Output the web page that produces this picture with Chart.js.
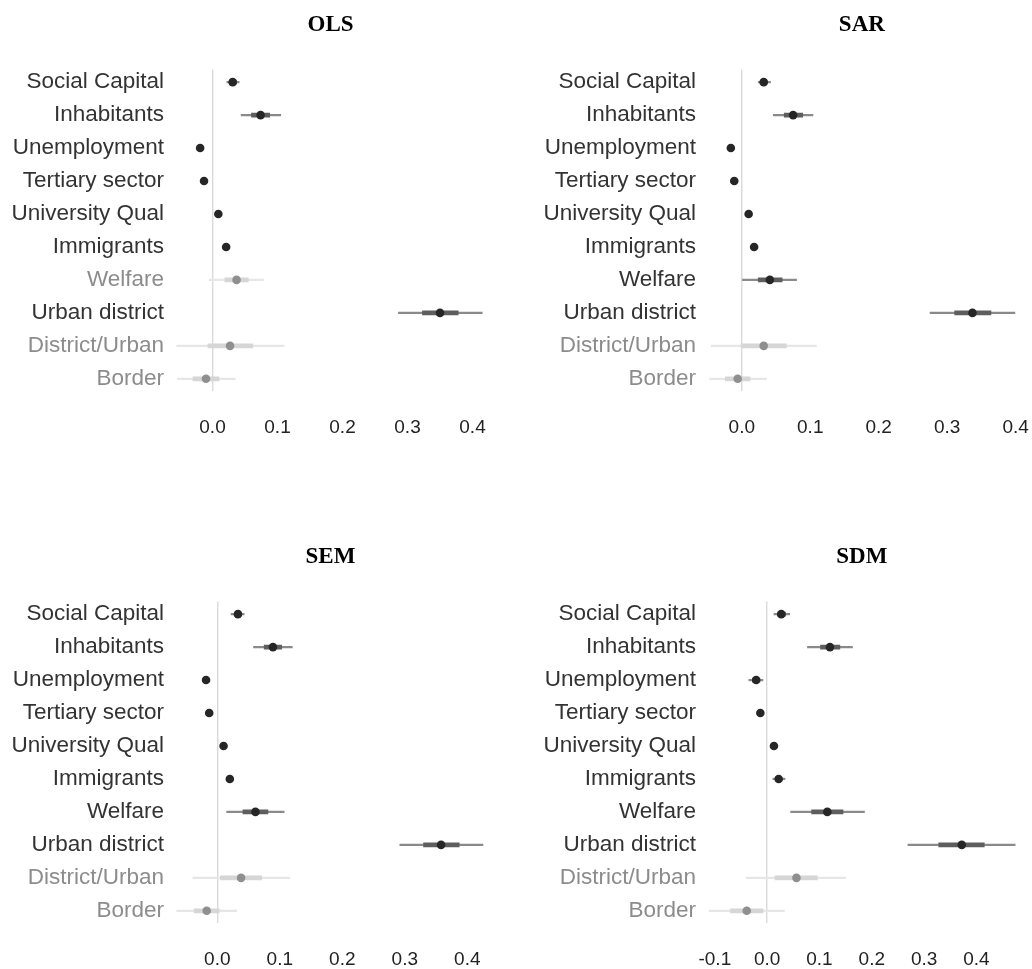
<!DOCTYPE html>
<html>
<head>
<meta charset="utf-8">
<script src="https://cdn.jsdelivr.net/npm/chart.js@4.4.1/dist/chart.umd.min.js"></script>
<style>
  body { margin: 0; background: #fff; }
  #wrap { position: relative; width: 1032px; height: 969px; }
  canvas { position: absolute; }
</style>
</head>
<body>
<div id="wrap">
  <canvas id="c0" width="516" height="437" style="left:0;top:0"></canvas>
  <canvas id="c1" width="516" height="437" style="left:516px;top:0"></canvas>
  <canvas id="c2" width="516" height="437" style="left:0;top:532px"></canvas>
  <canvas id="c3" width="516" height="437" style="left:516px;top:532px"></canvas>
</div>
<script>
// variables, top to bottom
var categories = ['Social Capital', 'Inhabitants', 'Unemployment', 'Tertiary sector', 'University Qual',
  'Immigrants', 'Welfare', 'Urban district', 'District/Urban', 'Border'];
var models = ['OLS', 'SAR', 'SEM', 'SDM'];

// point estimates + outer (wide) and inner (thick) intervals
var olsEst     = [0.031, 0.074, -0.019, -0.013, 0.009, 0.021, 0.037, 0.350, 0.027, -0.010];
var olsOuterLo = [0.022, 0.044, -0.024, -0.018, 0.005, 0.016, -0.005, 0.286, -0.055, -0.054];
var olsOuterHi = [0.041, 0.105, -0.014, -0.008, 0.013, 0.026, 0.079, 0.415, 0.110, 0.035];
var olsInnerLo = [0.026, 0.060, -0.022, -0.016, 0.007, 0.018, 0.019, 0.323, -0.007, -0.030];
var olsInnerHi = [0.037, 0.088, -0.016, -0.010, 0.011, 0.024, 0.055, 0.378, 0.062, 0.010];

var sarEst     = [0.032, 0.075, -0.016, -0.011, 0.010, 0.018, 0.041, 0.337, 0.032, -0.006];
var sarOuterLo = [0.024, 0.046, -0.021, -0.016, 0.006, 0.013, 0.001, 0.275, -0.045, -0.047];
var sarOuterHi = [0.042, 0.104, -0.011, -0.006, 0.014, 0.023, 0.080, 0.399, 0.109, 0.036];
var sarInnerLo = [0.028, 0.062, -0.019, -0.014, 0.008, 0.015, 0.024, 0.311, -0.001, -0.024];
var sarInnerHi = [0.037, 0.089, -0.013, -0.008, 0.012, 0.021, 0.059, 0.364, 0.065, 0.012];

var semEst     = [0.033, 0.089, -0.018, -0.013, 0.010, 0.020, 0.061, 0.358, 0.038, -0.017];
var semOuterLo = [0.022, 0.058, -0.023, -0.018, 0.006, 0.015, 0.015, 0.292, -0.039, -0.065];
var semOuterHi = [0.043, 0.120, -0.013, -0.008, 0.014, 0.025, 0.107, 0.425, 0.116, 0.031];
var semInnerLo = [0.028, 0.075, -0.021, -0.016, 0.008, 0.017, 0.041, 0.330, 0.005, -0.037];
var semInnerHi = [0.038, 0.103, -0.015, -0.010, 0.012, 0.023, 0.081, 0.387, 0.071, 0.003];

var sdmEst     = [0.027, 0.120, -0.021, -0.013, 0.013, 0.022, 0.115, 0.372, 0.056, -0.039];
var sdmOuterLo = [0.013, 0.077, -0.035, -0.019, 0.008, 0.011, 0.045, 0.269, -0.040, -0.111];
var sdmOuterHi = [0.043, 0.163, -0.008, -0.007, 0.018, 0.034, 0.186, 0.474, 0.150, 0.033];
var sdmInnerLo = [0.020, 0.102, -0.028, -0.016, 0.010, 0.016, 0.085, 0.328, 0.015, -0.070];
var sdmInnerHi = [0.035, 0.139, -0.014, -0.010, 0.016, 0.028, 0.145, 0.415, 0.096, -0.008];

// x axis ticks and ranges per panel
var ticksPos = [0, 0.1, 0.2, 0.3, 0.4];
var ticksSdm = [-0.1, 0, 0.1, 0.2, 0.3, 0.4];
var xMins = [-0.0746, -0.0669, -0.0853, -0.136];
var xMaxs = [0.4377, 0.4177, 0.4475, 0.498];

var panels = [
  { est: olsEst, oLo: olsOuterLo, oHi: olsOuterHi, iLo: olsInnerLo, iHi: olsInnerHi, ticks: ticksPos },
  { est: sarEst, oLo: sarOuterLo, oHi: sarOuterHi, iLo: sarInnerLo, iHi: sarInnerHi, ticks: ticksPos },
  { est: semEst, oLo: semOuterLo, oHi: semOuterHi, iLo: semInnerLo, iHi: semInnerHi, ticks: ticksPos },
  { est: sdmEst, oLo: sdmOuterLo, oHi: sdmOuterHi, iLo: sdmInnerLo, iHi: sdmInnerHi, ticks: ticksSdm }
];

Chart.defaults.font.family = '"Liberation Sans", Arial, sans-serif';

function makePanel(k) {
  var p = panels[k];
  // significant when the outer interval does not cross zero
  var sig = p.est.map(function(v, i) { return p.oLo[i] > 0 || p.oHi[i] < 0; });
  var pick = function(a, b) { return function(ctx) { return sig[ctx.dataIndex] ? a : b; }; };
  var isLeft = k % 2 === 0;

  new Chart(document.getElementById('c' + k), {
    type: 'bar',
    data: {
      datasets: [{
        grouped: false,
        data: categories.map(function(c, i) { return { x: [p.oLo[i], p.oHi[i]], y: i }; }),
        backgroundColor: pick('#8a8a8a', '#e6e6e6'),
        barThickness: 1.6,
        borderWidth: 0,
        order: 3
      }, {
        grouped: false,
        data: categories.map(function(c, i) { return { x: [p.iLo[i], p.iHi[i]], y: i }; }),
        backgroundColor: pick('#5e5e5e', '#d6d6d6'),
        barThickness: 4,
        borderWidth: 0,
        order: 2
      }, {
        type: 'scatter',
        data: categories.map(function(c, i) { return { x: p.est[i], y: i }; }),
        pointRadius: 4.3,
        pointBorderWidth: 0,
        pointBackgroundColor: pick('#262626', '#8f8f8f'),
        order: 1
      }]
    },
    options: {
      indexAxis: 'y',
      responsive: false,
      animation: false,
      layout: { padding: { left: 0, right: isLeft ? 19 : 0, top: 0, bottom: 0 } },
      plugins: {
        legend: { display: false },
        tooltip: { enabled: false },
        title: {
          display: true,
          text: models[k],
          fullSize: false,
          color: '#000',
          font: { family: '"Liberation Serif", "Times New Roman", serif', size: 23, weight: 'bold' },
          padding: { top: 11, bottom: 31 }
        }
      },
      scales: {
        x: {
          type: 'linear',
          offset: false,
          beginAtZero: false,
          min: xMins[k],
          max: xMaxs[k],
          afterBuildTicks: function(s) { s.ticks = p.ticks.map(function(v) { return { value: v }; }); },
          afterFit: function(s) { s.height = 46; },
          border: { display: false },
          grid: {
            offset: false,
            drawTicks: true,
            tickLength: 25,
            tickColor: 'rgba(0,0,0,0)',
            lineWidth: 1.4,
            color: function(ctx) { return ctx.tick && Math.abs(ctx.tick.value) < 1e-9 ? '#dadada' : 'rgba(0,0,0,0)'; }
          },
          ticks: {
            padding: 0,
            color: '#222',
            font: { size: 19 },
            callback: function(v) { return v.toFixed(1); }
          }
        },
        y: {
          type: 'linear',
          offset: false,
          reverse: true,
          min: -0.38,
          max: 9.37,
          afterBuildTicks: function(s) { s.ticks = categories.map(function(c, i) { return { value: i }; }); },
          afterFit: function(s) { s.width = isLeft ? 164 : 180; },
          border: { display: false },
          grid: { display: false, offset: false, drawTicks: false },
          ticks: {
            padding: 0,
            autoSkip: false,
            font: { size: 22.5 },
            color: function(ctx) { return sig[ctx.index] ? '#333333' : '#8c8c8c'; },
            callback: function(v) { return categories[v]; }
          }
        }
      }
    }
  });
}

for (var k = 0; k < models.length; k++) makePanel(k);
</script>
</body>
</html>
